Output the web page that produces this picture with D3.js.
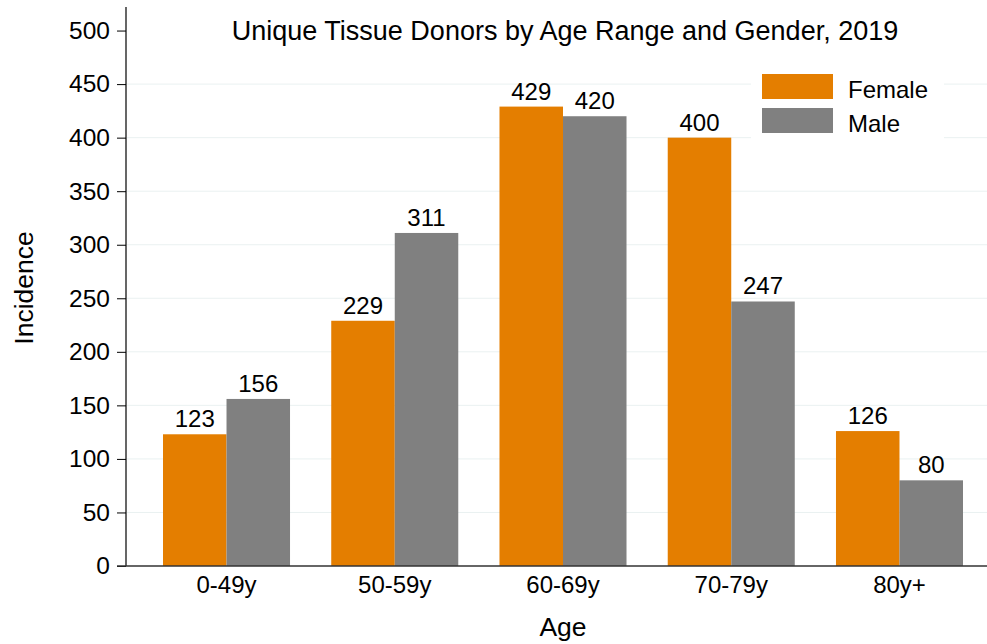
<!DOCTYPE html>
<html>
<head>
<meta charset="utf-8">
<script src="https://cdn.jsdelivr.net/npm/d3@7"></script>
<style>
  body { margin: 0; background: #fff; }
  text { font-family: "Liberation Sans", Arial, sans-serif; fill: #000; }
</style>
</head>
<body>
<div id="chart"></div>
<script>
// chart values
const ageRanges = ["0-49y", "50-59y", "60-69y", "70-79y", "80y+"];
const genders = ["Female", "Male"];
const femaleValues = [123, 229, 429, 400, 126];
const maleValues = [156, 311, 420, 247, 80];
const yTicks = [0, 50, 100, 150, 200, 250, 300, 350, 400, 450, 500];
const gridTicks = [50, 100, 150, 200, 250, 300, 350, 400, 450];

const colors = { Female: "#e47e00", Male: "#808080" };

const width = 987, height = 644;
const axisLeft = 126, axisBottom = 566;

const rows = ageRanges.map((a, i) => ({ age: a, Female: femaleValues[i], Male: maleValues[i] }));

const svg = d3.select("#chart").append("svg")
    .attr("width", width)
    .attr("height", height);

// scales
const x = d3.scaleBand().domain(ageRanges).range([163, 963]).paddingInner(0.245).paddingOuter(0);
const xSub = d3.scaleBand().domain(genders).range([0, x.bandwidth()]);
const y = d3.scaleLinear().domain([0, 522]).range([axisBottom, 7]);

// gridlines
svg.append("g")
    .selectAll("line")
    .data(gridTicks)
    .enter().append("line")
    .attr("x1", axisLeft + 1)
    .attr("x2", width)
    .attr("y1", d => y(d))
    .attr("y2", d => y(d))
    .attr("stroke", "#eaf1f1")
    .attr("stroke-width", 1);

// bars
const groups = svg.append("g")
    .selectAll("g")
    .data(rows)
    .enter().append("g")
    .attr("transform", d => "translate(" + x(d.age) + ",0)");

groups.selectAll("rect")
    .data(d => genders.map(g => ({ key: g, value: d[g] })))
    .enter().append("rect")
    .attr("x", d => xSub(d.key))
    .attr("y", d => y(d.value))
    .attr("width", xSub.bandwidth())
    .attr("height", d => y(0) - y(d.value))
    .attr("fill", d => colors[d.key]);

groups.selectAll("text")
    .data(d => genders.map(g => ({ key: g, value: d[g] })))
    .enter().append("text")
    .attr("x", d => xSub(d.key) + xSub.bandwidth() / 2)
    .attr("y", d => y(d.value) - 7)
    .attr("text-anchor", "middle")
    .style("font-size", "24px")
    .text(d => d.value);

// y axis
const yAxis = d3.axisLeft(y).tickValues(yTicks).tickSize(9).tickPadding(7);
const yG = svg.append("g")
    .attr("transform", "translate(" + axisLeft + ",0)")
    .call(yAxis);
yG.select(".domain").remove();
yG.selectAll(".tick line").attr("stroke", "#000");
yG.selectAll(".tick text").style("font-size", "24.5px").attr("fill", "#000");
svg.append("line")
    .attr("x1", axisLeft).attr("x2", axisLeft)
    .attr("y1", 7).attr("y2", axisBottom)
    .attr("stroke", "#000").attr("stroke-width", 1.2);

// x axis
const xAxis = d3.axisBottom(x).tickSize(0);
const xG = svg.append("g")
    .attr("transform", "translate(0," + axisBottom + ")")
    .call(xAxis);
xG.select(".domain").remove();
xG.selectAll(".tick text").style("font-size", "24px").attr("fill", "#000")
    .attr("y", 27).attr("dy", 0);
svg.append("line")
    .attr("x1", axisLeft - 9).attr("x2", width)
    .attr("y1", axisBottom).attr("y2", axisBottom)
    .attr("stroke", "#333").attr("stroke-width", 1.6);

// titles
svg.append("text")
    .attr("x", 565).attr("y", 40)
    .attr("text-anchor", "middle")
    .style("font-size", "27px")
    .text("Unique Tissue Donors by Age Range and Gender, 2019");

svg.append("text")
    .attr("transform", "translate(33,288) rotate(-90)")
    .attr("text-anchor", "middle")
    .style("font-size", "26.5px")
    .text("Incidence");

svg.append("text")
    .attr("x", 563).attr("y", 636)
    .attr("text-anchor", "middle")
    .style("font-size", "26.5px")
    .text("Age");

// legend
const legend = svg.append("g");
legend.append("rect")
    .attr("x", 751).attr("y", 62)
    .attr("width", 193).attr("height", 84)
    .attr("fill", "#fff");
const items = legend.selectAll("g")
    .data(genders)
    .enter().append("g")
    .attr("transform", (d, i) => "translate(762," + (74 + i * 34) + ")");
items.append("rect")
    .attr("width", 71).attr("height", 25)
    .attr("fill", d => colors[d]);
items.append("text")
    .attr("x", 86).attr("y", 23.5)
    .style("font-size", "24px")
    .text(d => d);
</script>
</body>
</html>
